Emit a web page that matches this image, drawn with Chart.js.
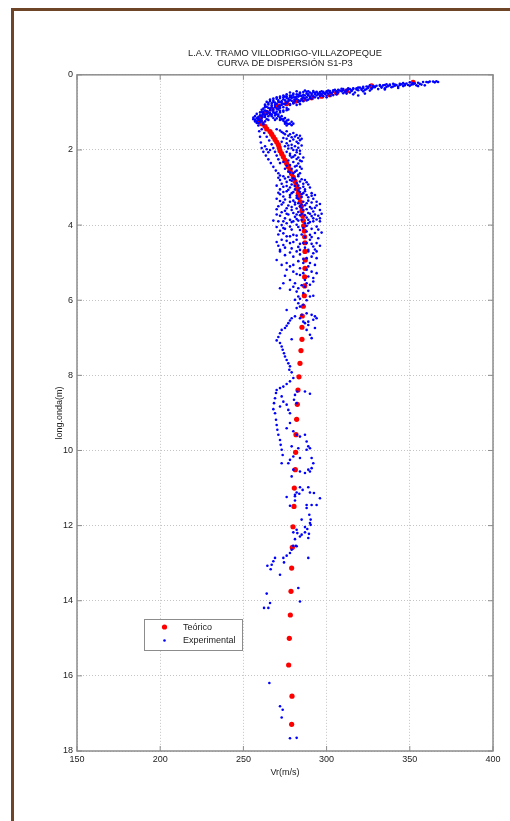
<!DOCTYPE html>
<html>
<head>
<meta charset="utf-8">
<script src="https://cdn.jsdelivr.net/npm/chart.js@4/dist/chart.umd.min.js"></script>
<style>
  html, body { margin: 0; padding: 0; background: #fff; }
  #marco { position: absolute; left: 11px; top: 8px; width: 600px; height: 900px;
           border-left: 3px solid #6e4527; border-top: 3px solid #6e4527; }
  #caja { position: absolute; left: 0; top: 0; }
</style>
</head>
<body>
<div id="marco"></div>
<div id="caja"><canvas id="grafico" width="510" height="821"></canvas></div>
<script>
// curva teórica [Vr (m/s), longitud de onda (m)]
const teorico = [
  [352, 0.2], [327, 0.29], [312, 0.43], [306, 0.48], [302, 0.53],
  [297, 0.57], [291, 0.61], [286, 0.65], [281, 0.7], [276, 0.76], [271, 0.83], [267, 0.91],
  [264, 1.0], [262, 1.08], [260, 1.16], [260, 1.23], [261, 1.3], [263, 1.37], [264, 1.44],
  [266, 1.51], [267, 1.58], [268, 1.65], [269, 1.72], [270, 1.79], [271, 1.86], [271.5, 1.94],
  [272, 2.02], [273, 2.1], [274, 2.18], [275, 2.27], [276, 2.36], [277, 2.45], [278, 2.54],
  [279, 2.63], [280, 2.73], [281, 2.83], [281.6, 2.93], [282.4, 3.04], [283, 3.15], [283.6, 3.26],
  [284.2, 3.38], [284.8, 3.5], [285.2, 3.62], [285.6, 3.75], [286, 3.88], [286.2, 4.02],
  [286.6, 4.16], [286.8, 4.31], [287, 4.47], [287, 4.7], [287.2, 4.93], [287, 5.15],
  [286.8, 5.38], [286.8, 5.62], [286.6, 5.88], [286, 6.16], [285.4, 6.42], [285.2, 6.72],
  [285.2, 7.04], [284.6, 7.34], [284, 7.68], [283.4, 8.04], [282.8, 8.39], [282.4, 8.77],
  [282, 9.17], [281.6, 9.58], [281.4, 10.05], [281.2, 10.51], [280.6, 11.0], [280.4, 11.49],
  [279.8, 12.03], [279.4, 12.58], [279, 13.13], [278.6, 13.75], [278.2, 14.38], [277.6, 15.0],
  [277.2, 15.71], [279.2, 16.54], [279, 17.29]
];

// puntos experimentales [Vr (m/s), longitud de onda (m)]
const experimental = [
  // tramo superior
  [366, 0.17], [364, 0.18], [362, 0.18], [360, 0.19], [367, 0.19], [358, 0.19], [365, 0.2], [361, 0.2],
  [355, 0.21], [352, 0.22], [350, 0.2], [348, 0.23], [346, 0.22], [344, 0.24], [352, 0.25], [349, 0.27],
  [354, 0.28], [347, 0.28], [345, 0.25], [342, 0.27],
  [356, 0.24], [353, 0.23], [351, 0.26], [347, 0.25], [344, 0.27], [341, 0.26], [338, 0.28], [335, 0.27],
  [332, 0.29], [329, 0.31], [346, 0.3], [350, 0.29], [336, 0.32], [340, 0.31], [333, 0.34], [357, 0.26],
  [359, 0.28], [355, 0.3],
  [340, 0.24], [338, 0.26], [336, 0.25], [334, 0.28], [332, 0.27], [330, 0.29], [328, 0.3], [326, 0.28],
  [324, 0.31], [322, 0.32], [320, 0.34], [341, 0.29], [337, 0.3], [333, 0.32], [329, 0.33], [325, 0.35],
  [321, 0.37], [343, 0.31], [335, 0.36], [331, 0.38], [339, 0.33], [327, 0.38], [323, 0.4], [318, 0.36],
  [316, 0.38], [319, 0.41], [335, 0.39], [343, 0.35],
  [328, 0.33], [325, 0.32], [322, 0.35], [319, 0.34], [316, 0.36], [313, 0.39], [310, 0.38], [307, 0.4],
  [327, 0.36], [324, 0.38], [321, 0.4], [318, 0.39], [315, 0.41], [312, 0.43], [309, 0.44], [306, 0.46],
  [326, 0.42], [322, 0.44], [314, 0.47], [310, 0.49], [323, 0.5], [316, 0.52],
  [314, 0.38], [312, 0.4], [310, 0.41], [308, 0.42], [306, 0.44], [304, 0.45], [302, 0.46], [300, 0.47],
  [298, 0.48], [296, 0.49], [315, 0.43], [311, 0.45], [307, 0.47], [303, 0.49], [299, 0.51], [297, 0.53],
  [313, 0.36], [309, 0.37], [305, 0.4], [301, 0.42], [297, 0.44], [317, 0.47], [312, 0.5], [319, 0.55],
  [306, 0.52], [300, 0.55], [294, 0.45], [295, 0.52],
  [304, 0.41], [302, 0.43], [300, 0.44], [298, 0.45], [296, 0.46], [294, 0.47], [292, 0.46], [290, 0.47],
  [303, 0.48], [301, 0.5], [299, 0.49], [297, 0.51], [295, 0.5], [293, 0.52], [291, 0.53], [289, 0.55],
  [304, 0.54], [302, 0.56], [298, 0.57], [296, 0.56], [292, 0.57], [288, 0.6], [300, 0.6], [295, 0.62],
  [291, 0.64],
  [293, 0.48], [291, 0.5], [289, 0.52], [287, 0.55], [285, 0.56], [283, 0.58], [281, 0.6], [279, 0.62],
  [277, 0.64], [292, 0.43], [288, 0.45], [284, 0.47], [280, 0.5], [276, 0.52], [290, 0.58], [286, 0.6],
  [282, 0.64], [278, 0.67], [294, 0.55], [290, 0.62], [285, 0.66], [281, 0.7], [276, 0.72], [288, 0.5],
  [283, 0.53], [279, 0.56], [275, 0.58], [287, 0.42], [282, 0.44], [278, 0.47], [293, 0.6], [289, 0.66],
  [284, 0.7], [280, 0.74],
  // codo
  [289, 0.44], [286, 0.46], [284, 0.5], [282, 0.52], [280, 0.53], [278, 0.55], [276, 0.57], [286, 0.53],
  [284, 0.56], [282, 0.58], [280, 0.6], [278, 0.6], [276, 0.62], [274, 0.6], [287, 0.63], [285, 0.64],
  [283, 0.67], [281, 0.66], [279, 0.69], [277, 0.7], [275, 0.68], [273, 0.7], [286, 0.7], [283, 0.72],
  [280, 0.76], [278, 0.78], [276, 0.75], [274, 0.77], [272, 0.73], [288, 0.68], [284, 0.78], [282, 0.8],
  [274, 0.55], [272, 0.58], [270, 0.6], [268, 0.63], [266, 0.66], [274, 0.65], [271, 0.68], [268, 0.72],
  [265, 0.75], [263, 0.79], [273, 0.74], [270, 0.77], [267, 0.81], [264, 0.85], [262, 0.9], [272, 0.82],
  [269, 0.86], [266, 0.9], [263, 0.95], [261, 0.99], [275, 0.78], [271, 0.92], [268, 0.96], [265, 1.0],
  [262, 1.05], [260, 1.08], [259, 1.12], [258, 1.16], [257, 1.2], [258, 1.24], [260, 1.2], [263, 1.12],
  [266, 1.06], [269, 1.02], [272, 1.0], [274, 0.95], [276, 0.88], [278, 0.8], [277, 0.92], [264, 1.18],
  [262, 1.28], [259, 1.29], [261, 1.15],
  [272, 0.62], [270, 0.64], [268, 0.68], [266, 0.7], [264, 0.72], [271, 0.72], [269, 0.74], [267, 0.76],
  [265, 0.79], [263, 0.82], [273, 0.8], [271, 0.84], [269, 0.8], [267, 0.86], [265, 0.88], [263, 0.86],
  [261, 0.93], [274, 0.86], [272, 0.88], [270, 0.9], [268, 0.92], [266, 0.95], [264, 0.97], [262, 0.98],
  [276, 0.94], [274, 0.98], [272, 0.96], [270, 0.98], [268, 1.0], [266, 1.02], [264, 1.04], [262, 1.02],
  [260, 1.0], [258, 1.04], [257, 1.1], [256, 1.14], [259, 1.16], [261, 1.1], [263, 1.08], [265, 1.1],
  [267, 1.05], [269, 1.08], [257, 1.24], [259, 1.2], [261, 1.22], [263, 1.24], [265, 1.2], [258, 1.28],
  [260, 1.26], [262, 1.32], [256, 1.18],
  [270, 1.05], [271, 1.1], [272, 1.14], [273, 1.18], [274, 1.22], [275, 1.26], [276, 1.29], [277, 1.31],
  [267, 1.1], [268, 1.15], [269, 1.2],
  [271, 1.06], [273, 1.1], [275, 1.15], [277, 1.2], [279, 1.25], [278, 1.3], [276, 1.22], [274, 1.18],
  [272, 1.2], [270, 1.16], [280, 1.3], [275, 1.3], [279, 1.34], [276, 1.35],
  // ramas 1.3 - 2.7 m
  [261, 1.45], [262.5, 1.55], [264, 1.65], [265.5, 1.75], [267, 1.85], [268, 1.95], [269, 2.05],
  [270, 2.15], [271, 2.25], [272, 2.35],
  [259, 1.35], [259.5, 1.5], [260, 1.65], [260.5, 1.8], [261, 1.95], [262, 2.05], [263.5, 2.15],
  [265, 2.25], [266.5, 2.35], [268, 2.45], [269.5, 2.55], [271, 2.62], [272, 2.68],
  [266, 2.0], [264, 1.98], [265, 2.06], [263, 1.9],
  [273, 1.52], [275, 1.58], [277, 1.62], [279, 1.66], [281, 1.64], [283, 1.68], [280, 1.72], [278, 1.76],
  [282, 1.78], [284, 1.74], [276, 1.82], [279, 1.86], [281, 1.9], [283, 1.94], [277, 1.96], [280, 2.0],
  [282, 2.06], [278, 2.1], [281, 2.14], [284, 2.1], [279, 2.2], [282, 2.24], [277, 2.28], [280, 2.32],
  [283, 2.36], [278, 2.4], [281, 2.44], [279, 2.5], [282, 2.55], [277, 2.58], [280, 2.62], [283, 2.66],
  [285, 2.5], [284, 2.28], [286, 2.2],
  [270, 1.45], [272, 1.48], [274, 1.55], [276, 1.5], [278, 1.58], [280, 1.55], [282, 1.6], [284, 1.62],
  [285, 1.7], [283, 1.82], [285, 1.88], [276, 1.7], [274, 1.68], [273, 1.78], [275, 1.9], [277, 1.88],
  [279, 1.95], [282, 2.0], [284, 2.02], [276, 2.05], [278, 2.15], [280, 2.18], [283, 2.2], [285, 2.3],
  [274, 2.32], [276, 2.42], [282, 2.42], [284, 2.45], [275, 2.5], [278, 2.6], [281, 2.58], [284, 2.62],
  // nube 2.7 - 4.7 m
  [274, 2.7], [277, 2.72], [280, 2.75], [283, 2.7], [285, 2.78], [272, 2.8], [276, 2.85], [279, 2.82],
  [282, 2.88], [286, 2.9], [288, 2.86], [270, 2.95], [274, 2.98], [278, 3.0], [281, 2.96], [284, 3.02],
  [287, 3.05], [290, 3.0], [276, 3.1], [280, 3.12], [283, 3.08], [286, 3.15], [272, 3.18], [278, 3.2],
  [282, 3.22], [285, 3.25], [288, 3.2], [291, 3.15], [270, 3.3], [275, 3.32], [280, 3.35], [283, 3.3],
  [286, 3.38], [289, 3.35], [292, 3.3], [273, 3.45], [277, 3.48], [281, 3.45], [284, 3.5], [287, 3.47],
  [290, 3.52], [294, 3.48], [270, 3.58], [275, 3.62], [279, 3.6], [283, 3.65], [286, 3.6], [289, 3.68],
  [292, 3.64], [296, 3.6], [272, 3.75], [277, 3.72], [281, 3.78], [284, 3.74], [288, 3.8], [291, 3.76],
  [294, 3.85], [268, 3.88], [274, 3.9], [279, 3.92], [283, 3.88], [287, 3.95], [290, 3.92], [296, 3.9],
  [271, 2.74], [273, 2.9], [275, 2.76], [278, 2.8], [281, 2.78], [284, 2.84], [287, 2.8], [289, 2.92],
  [283, 2.95], [286, 2.98], [279, 2.92], [276, 2.96],
  [272, 3.05], [274, 3.12], [277, 3.06], [279, 3.15], [281, 3.05], [284, 3.12], [287, 3.1], [289, 3.26],
  [291, 3.22], [285, 3.18], [282, 3.28], [278, 3.26], [274, 3.24], [271, 3.14], [293, 3.2],
  [272, 3.36], [274, 3.4], [278, 3.38], [281, 3.4], [283, 3.42], [285, 3.45], [288, 3.42], [291, 3.4],
  [294, 3.38], [296, 3.44], [276, 3.55], [279, 3.52], [282, 3.56], [285, 3.54], [288, 3.58], [291, 3.56],
  [293, 3.54], [271, 3.5],
  [273, 3.66], [276, 3.7], [280, 3.68], [282, 3.72], [285, 3.7], [287, 3.74], [290, 3.7], [293, 3.72],
  [295, 3.75], [297, 3.7], [270, 3.72], [275, 3.82], [278, 3.86], [282, 3.84], [285, 3.86], [289, 3.86],
  [292, 3.82], [296, 3.82],
  [271, 3.9], [273, 4.0], [274, 4.08], [276, 3.95], [278, 4.04], [280, 3.9], [282, 3.99], [284, 4.13],
  [289, 3.95], [292, 3.9], [294, 4.04], [293, 4.21], [290, 4.26], [288, 4.17], [280, 4.26], [276, 4.3],
  [273, 4.39], [274, 4.53], [272, 4.66], [278, 4.48], [282, 4.39], [286, 4.48], [290, 4.39], [292, 4.57],
  [294, 4.48], [289, 4.66], [284, 4.66],
  [270, 4.05], [272, 4.15], [275, 4.1], [279, 4.12], [283, 4.05], [286, 4.08], [288, 4.02], [291, 4.1],
  [295, 4.12], [297, 4.2], [271, 4.25], [274, 4.22], [278, 4.3], [282, 4.28], [285, 4.25], [287, 4.32],
  [291, 4.32], [295, 4.35], [270, 4.45], [276, 4.42], [280, 4.45], [284, 4.5], [288, 4.48], [291, 4.5],
  [296, 4.55], [275, 4.6], [279, 4.62], [283, 4.58], [287, 4.6], [293, 4.65], [271, 4.55],
  // 4.7 - 8 m
  [272, 4.7], [278, 4.73], [282, 4.7], [289, 4.7], [292, 4.75], [294, 4.7], [280, 4.84], [288, 4.88],
  [291, 4.84], [294, 4.88], [270, 4.93], [273, 5.06], [276, 5.01], [280, 5.06], [286, 5.01], [290, 5.01],
  [293, 5.06], [284, 5.15], [288, 5.19], [291, 5.24], [294, 5.28], [280, 5.24], [276, 5.19], [284, 5.33],
  [289, 5.37], [278, 5.46], [287, 5.46], [292, 5.41], [281, 5.55], [288, 5.55], [274, 5.55], [272, 5.68],
  [280, 5.64], [283, 5.68], [287, 5.64], [290, 5.59], [282, 5.77], [286, 5.81], [290, 5.9], [292, 5.88],
  [283, 5.9], [281, 5.99], [283, 6.08], [284, 6.17], [282, 6.21], [276, 6.26],
  [275, 4.8], [284, 4.78], [286, 4.9], [283, 4.96], [289, 5.1], [278, 5.1], [282, 5.3], [286, 5.28],
  [275, 5.35], [292, 5.5], [285, 5.6], [278, 5.72], [289, 5.75], [284, 5.96], [288, 6.0], [286, 6.12],
  [285, 6.39], [281, 6.43], [279, 6.48], [278, 6.54], [277, 6.61], [276, 6.68], [275, 6.74], [273, 6.79],
  [272, 6.88], [271, 6.98], [270, 7.07],
  [288, 6.35], [291, 6.39], [293, 6.43], [294, 6.48], [292, 6.52], [289, 6.57], [287, 6.61], [289, 6.66],
  [293, 6.74], [288, 6.79], [290, 6.92], [291, 7.01], [286, 6.57], [284, 6.48],
  [272, 7.14], [273, 7.23], [273.6, 7.32], [274.4, 7.41], [275, 7.5], [276, 7.59], [277, 7.68],
  [278, 7.76], [277.6, 7.85], [279, 7.92], [279, 7.04],
  // 8 - 11 m
  [280, 8.07], [278, 8.16], [276, 8.23], [274, 8.3], [272, 8.34], [270, 8.39], [269.6, 8.47], [269, 8.61],
  [268.4, 8.74], [268, 8.9], [269, 9.01], [282.4, 8.43], [281, 8.52], [280.4, 8.65], [282, 8.74],
  [287, 8.43], [290, 8.49], [273, 8.56], [274, 8.7], [272, 8.83], [276, 8.78], [277, 8.92], [278, 9.01],
  [269.6, 9.18], [270, 9.32], [270.4, 9.45], [271, 9.58], [272, 9.72], [272.4, 9.85], [273, 9.98],
  [273.6, 10.12], [273, 10.34], [276, 9.41], [278, 9.27], [280, 9.49], [282, 9.58], [284, 9.63],
  [287, 9.58], [288, 9.76], [289, 9.89], [290, 9.94], [288, 9.98], [283, 9.94], [279, 9.89], [280, 10.16],
  [278, 10.25], [277, 10.34], [284, 10.2], [291, 10.2], [292, 10.34], [291, 10.47], [290, 10.56],
  [284, 10.56], [287, 10.6], [289, 10.51], [280, 10.51], [279, 10.69],
  // 11 - 18 m
  [284, 10.98], [289, 10.98], [285.6, 11.05], [282, 11.12], [281, 11.18], [276, 11.24], [281, 11.22],
  [283.6, 11.15], [292.4, 11.13], [290, 11.12], [296, 11.27], [281, 11.33], [278, 11.47], [288, 11.45],
  [291, 11.45], [294, 11.45], [288, 11.53], [289.6, 11.71], [285, 11.84], [290.4, 11.84], [290, 11.93],
  [290.4, 11.98], [287, 12.04], [288.4, 12.09], [280, 12.18], [282, 12.11], [282.4, 12.2], [287, 12.18],
  [289.4, 12.22], [285, 12.24], [284, 12.29], [281, 12.36], [289, 12.33], [280, 12.54], [281.6, 12.54],
  [282, 12.55], [279, 12.64], [278, 12.73], [276, 12.8], [274, 12.86], [269, 12.86], [268, 12.95],
  [267, 13.04], [264.4, 13.07], [274.4, 12.98], [266.4, 13.16], [289, 12.86], [272, 13.31], [283, 13.66],
  [264, 13.81], [266, 14.06], [284, 14.02], [262.4, 14.19], [265, 14.19], [265.6, 16.19], [272, 16.81],
  [273.6, 16.9], [273, 17.11], [278, 17.66], [282, 17.65]
];

const titulo = ['L.A.V. TRAMO VILLODRIGO-VILLAZOPEQUE', 'CURVA DE DISPERSIÓN S1-P3'];
const etiquetas = ['Teórico', 'Experimental'];
const colores = ['#ff0000', '#0000ff'];
const fuente = '"Liberation Sans", Arial, Helvetica, sans-serif';

// caja de ejes y marcas interiores al estilo matlab
const marcoEjes = {
  id: 'marcoEjes',
  afterDatasetsDraw(chart) {
    const { ctx, chartArea: a, scales } = chart;
    ctx.save();
    ctx.strokeStyle = '#8c8c8c';
    ctx.lineWidth = 1.5;
    ctx.strokeRect(a.left, a.top, a.right - a.left, a.bottom - a.top);
    ctx.lineWidth = 1;
    ctx.beginPath();
    scales.y.ticks.forEach(t => {
      const y = scales.y.getPixelForValue(t.value);
      ctx.moveTo(a.left, y); ctx.lineTo(a.left + 5, y);
      ctx.moveTo(a.right, y); ctx.lineTo(a.right - 5, y);
    });
    scales.x.ticks.forEach(t => {
      const x = scales.x.getPixelForValue(t.value);
      ctx.moveTo(x, a.bottom); ctx.lineTo(x, a.bottom - 5);
      ctx.moveTo(x, a.top); ctx.lineTo(x, a.top + 5);
    });
    ctx.stroke();
    ctx.restore();
  }
};

const leyenda = {
  id: 'leyenda',
  afterDraw(chart) {
    const ctx = chart.ctx;
    const x0 = 144, y0 = 619, w = 98, h = 31;
    ctx.save();
    ctx.fillStyle = '#fff';
    ctx.fillRect(x0, y0, w, h);
    ctx.strokeStyle = '#8c8c8c';
    ctx.lineWidth = 1;
    ctx.strokeRect(x0 + 0.5, y0 + 0.5, w, h);
    ctx.font = '9px ' + fuente;
    ctx.textBaseline = 'middle';
    chart.data.datasets.forEach((ds, i) => {
      const y = y0 + 8 + i * 13.5;
      ctx.fillStyle = ds.backgroundColor;
      ctx.beginPath();
      ctx.arc(x0 + 20.5, y, ds.pointRadius, 0, Math.PI * 2);
      ctx.fill();
      ctx.fillStyle = '#222';
      ctx.fillText(ds.label, x0 + 39, y + 0.5);
    });
    ctx.restore();
  }
};

new Chart(document.getElementById('grafico'), {
  type: 'scatter',
  data: {
    datasets: [
      {
        label: etiquetas[0],
        data: teorico.map(p => ({ x: p[0], y: p[1] })),
        backgroundColor: colores[0],
        borderWidth: 0,
        pointRadius: 2.6,
        order: 1
      },
      {
        label: etiquetas[1],
        data: experimental.map(p => ({ x: p[0], y: p[1] })),
        backgroundColor: colores[1],
        borderWidth: 0,
        pointRadius: 1.3,
        order: 0
      }
    ]
  },
  options: {
    responsive: false,
    animation: false,
    layout: { padding: { top: 40, left: 50, right: 17, bottom: 40 } },
    plugins: {
      legend: { display: false },
      tooltip: { enabled: false },
      title: {
        display: true,
        fullSize: false,
        text: titulo,
        color: '#222',
        font: { family: fuente, size: 9.3, weight: 'normal', lineHeight: 1.12 },
        padding: { top: 8, bottom: 6 }
      }
    },
    scales: {
      x: {
        type: 'linear',
        min: 150,
        max: 400,
        ticks: { stepSize: 50, padding: 3, color: '#222', font: { family: fuente, size: 9 } },
        grid: { color: '#c4c4c4', drawTicks: false },
        border: { display: false, dash: [1, 2] },
        title: { display: true, text: 'Vr(m/s)', color: '#222', font: { family: fuente, size: 9 }, padding: { top: 0, bottom: 3 } },
        afterFit: s => { s.height = 30; }
      },
      y: {
        type: 'linear',
        reverse: true,
        min: 0,
        max: 18,
        ticks: { stepSize: 2, padding: 4, color: '#222', font: { family: fuente, size: 9 } },
        grid: { color: '#c4c4c4', drawTicks: false },
        border: { display: false, dash: [1, 2] },
        title: { display: true, text: 'long.onda(m)', color: '#222', font: { family: fuente, size: 9 }, padding: { top: 4, bottom: 0 } },
        afterFit: s => { s.width = 27; }
      }
    }
  },
  plugins: [marcoEjes, leyenda]
});
</script>
</body>
</html>
